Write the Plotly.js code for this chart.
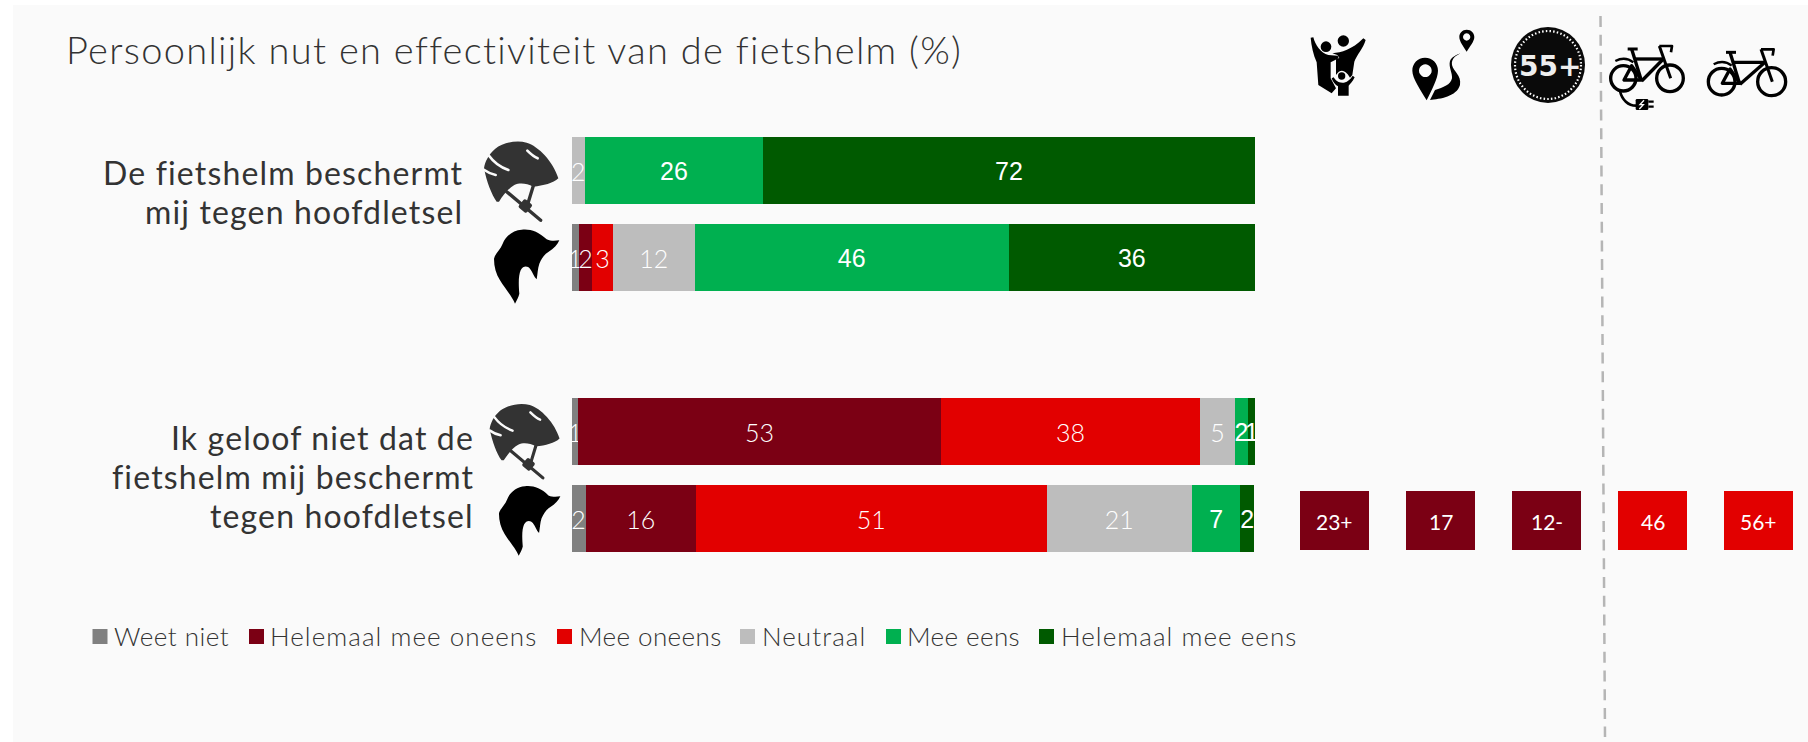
<!DOCTYPE html>
<html><head><meta charset="utf-8">
<script src="https://cdn.plot.ly/plotly-3.0.1.min.js"></script>
<style>html,body{margin:0;padding:0;background:#fff}#chart{width:1808px;height:742px}</style>
</head><body><div id="chart"></div>
<script>
const W=1808,H=742;
const rowPositions=[0,1,3,4];
const seriesNames=['Weet niet','Helemaal mee oneens','Mee oneens','Neutraal','Mee eens','Helemaal mee eens'];
const seriesColors=['#808080','#7B0014','#E20000','#BDBDBD','#00B050','#005A00'];
const weetNiet=[0,1.05,1.0,2.05];
const helemaalOneens=[0,2.0,53.0,16.15];
const meeOneens=[0,3.0,38.0,51.3];
const neutraal=[2.0,12.0,5.0,21.3];
const meeEens=[26.0,45.9,2.0,7.05];
const helemaalEens=[72.0,36.05,1.0,2.05];
const seriesValues=[weetNiet,helemaalOneens,meeOneens,neutraal,meeEens,helemaalEens];
const labelFamily='Lato, sans-serif';
const statLabels=['23+','17','12-','46','56+'];
const statColors=['#7B0014','#7B0014','#7B0014','#E20000','#E20000'];
const statLefts=[1300,1406,1512,1618,1724];
const legendSquares=[92.5,249,557,740,886,1039];
const legendTexts=[112,268,577,759.5,905.5,1059];
const legendSpacing=[0.5,1.05,0.4,1.05,0.4,1.05];
const questionLines=[['De fietshelm beschermt',465,172],['mij tegen hoofdletsel',465,211],['Ik geloof niet dat de',476,437],['fietshelm mij beschermt',476,476],['tegen hoofdletsel',476,515]];
const px=x=>x/W, py=y=>1-y/H;
const spaced=(t,s)=>`<span style="letter-spacing:${s}px">${t}</span>`;

const traces=seriesNames.map((n,i)=>({
  type:'bar',orientation:'h',name:n,y:rowPositions,x:seriesValues[i],
  width:67/87,marker:{color:seriesColors[i],line:{width:0}},
  text:seriesValues[i].map(v=>v>0?String(Math.round(v)):''),
  textposition:'inside',insidetextanchor:'middle',textangle:0,constraintext:'none',
  insidetextfont:{family:i>=4?'Liberation Sans, Arial, sans-serif':labelFamily,size:25,color:'#fff',weight:i>=4?400:300},
  hoverinfo:'name+x',cliponaxis:false
}));

const svg=s=>'data:image/svg+xml;utf8,'+encodeURIComponent(s);
const helmet=svg(`<svg xmlns="http://www.w3.org/2000/svg" viewBox="0 0 285 285"><path fill="#333" d="M27 100C30 80 40 60 60 42C85 22 125 15 155 23C190 33 235 80 250 130C235 145 205 152 175 155C155 145 135 142 118 150C100 160 85 180 72 200L65 200C50 180 35 140 27 100Z"/><g fill="none" stroke="#fafafa" stroke-width="8" stroke-linecap="round"><path d="M42 62C55 80 78 97 100 105"/><path d="M28 105C38 112 50 118 62 120"/><path d="M157 47C165 55 175 65 188 70"/></g><g fill="none" stroke="#333" stroke-width="10" stroke-linecap="round"><path d="M95 170L197 256"/><path d="M175 152L158 208"/></g><rect x="135" y="197" width="32" height="32" rx="6" fill="#333" transform="rotate(40 151 213)"/></svg>`);
const hair=svg(`<svg xmlns="http://www.w3.org/2000/svg" viewBox="0 0 270 270"><path fill="#000" d="M105 245C98 225 75 200 60 175C48 155 42 135 42 110C45 95 60 85 68 65C78 40 100 25 125 23C150 20 175 28 200 52C213 58 225 57 238 55C232 68 222 80 205 90C192 98 185 110 178 125C173 140 173 155 170 172C162 165 158 150 150 140C143 132 130 130 122 145C116 160 115 180 118 215C116 225 110 235 105 245Z"/></svg>`);
const family=svg(`<svg xmlns="http://www.w3.org/2000/svg" viewBox="0 0 100 85"><g transform="scale(.3333)" fill="#000"><circle cx="78" cy="65" r="16"/><circle cx="130" cy="48" r="17"/><path d="M32 38L40 37C46 60 62 84 85 90L113 92L116 100L92 112L92 160L108 190L95 205L55 180L50 112C40 90 34 62 32 38Z"/><path d="M97 85C125 82 155 75 190 40L197 45C190 70 170 90 163 110L157 150L150 158C135 132 120 132 108 150L108 103L118 99L112 90Z"/><circle cx="125" cy="153" r="11"/><path d="M95 160L101 157C106 166 114 173 127 173C140 173 150 165 158 152L164 157C158 170 150 178 146 182L146 212L114 212L114 184C106 180 98 170 95 160Z"/></g></svg>`);
const route=svg(`<svg xmlns="http://www.w3.org/2000/svg" viewBox="0 0 100 85"><g transform="scale(.3333) translate(-300,0)" fill="#000"><path fill-rule="evenodd" d="M375 98C398 98 414 115 414 137C414 160 395 195 380 226C362 195 337 160 337 137C337 115 353 98 375 98ZM376 118A19 19 0 1 0 376.01 118Z"/><path fill-rule="evenodd" d="M500 14C514 14 523 24 523 36C523 49 510 64 500 80C490 64 478 49 478 36C478 24 487 14 500 14ZM500 25A11 11 0 1 0 500.01 25Z"/><path d="M492 82C470 88 453 100 456 120C460 140 485 150 480 180C470 215 420 222 390 225L405 195C430 187 452 180 456 160C458 145 445 125 450 108C455 94 478 86 492 82Z"/></g></svg>`);
const badge=svg(`<svg xmlns="http://www.w3.org/2000/svg" viewBox="0 0 74 76"><ellipse cx="37" cy="38" rx="37" ry="38" fill="#0a0a0a"/><ellipse cx="37" cy="38" rx="33" ry="34" fill="none" stroke="#fff" stroke-width="2.2" stroke-dasharray="1.5 2.2"/></svg>`);
const bikeParts=(rx,ry,rr,fx,fy,fr)=>`<g fill="none" stroke="#000" stroke-width="10" stroke-linejoin="round"><circle cx="${rx}" cy="${ry}" r="${rr}"/><circle cx="${fx}" cy="${fy}" r="${fr}"/><path d="M${rx+2} ${ry+5}L${rx+55} ${ry+5}L${rx+25} ${ry-38}Z"/><path d="M${rx+25} ${ry-88}L${rx+52} ${ry}"/><path d="M${rx+13} ${ry-88}H${rx+43}" stroke-width="9"/><path d="M${rx+32} ${ry-58}H${fx-20}"/><path d="M${fx-20} ${ry-58}L${rx+55} ${ry+8}"/><path d="M${fx-32} ${ry-97}L${fx+2} ${ry}" stroke-width="9"/><path d="M${fx-32} ${ry-97}H${fx+6}L${fx+3} ${ry-78}" stroke-width="8"/><path d="M${rx-24} ${ry-52}C${rx-5} ${ry-62} ${rx+15} ${ry-60} ${rx+30} ${ry-48}" stroke-width="7"/></g>`;
const ebike=svg(`<svg xmlns="http://www.w3.org/2000/svg" viewBox="0 0 95 85"><g transform="scale(.3333)">${bikeParts(70,130,38,210,130,40)}<path d="M60 168C66 195 85 212 108 212" fill="none" stroke="#000" stroke-width="8"/><rect x="107" y="192" width="38" height="33" rx="4" fill="#000"/><path d="M145 200H161M145 215H161" stroke="#000" stroke-width="7"/><path d="M132 196L120 209H130L118 222" fill="none" stroke="#fff" stroke-width="4"/></g></svg>`);
const bike=svg(`<svg xmlns="http://www.w3.org/2000/svg" viewBox="0 0 100 85"><g transform="scale(.3333) translate(-285,0)">${bikeParts(365,140,40,515,140,42)}</g></svg>`);
const img=(source,x0,y0,w,h)=>({source,xref:'paper',yref:'paper',x:px(x0),y:py(y0),sizex:w/W,sizey:h/H,sizing:'stretch',xanchor:'left',yanchor:'top',layer:'above'});
const images=[
  img(helmet,475,135,95,95),img(hair,480,222,90,90),
  img(helmet,481.2,397.7,89.3,89.3),img(hair,485.8,479.1,84.6,84.6),
  img(family,1300,25,100,85),img(route,1400,25,100,85),img(badge,1511,27,74,76),
  img(ebike,1600,35,95,85),img(bike,1695,35,100,85)
];
const rectPx=(x0,y0,x1,y1,color,layer)=>({type:'rect',xref:'paper',yref:'paper',x0:px(x0),x1:px(x1),y0:py(y0),y1:py(y1),fillcolor:color,line:{width:0},layer:layer||'above'});
const shapes=[rectPx(13,5,1808,742,'#FAFAFA','below')];
shapes.push({type:'line',xref:'paper',yref:'paper',x0:px(1600.5),y0:py(16),x1:px(1605),y1:py(737),line:{color:'#B5B5B5',width:2.5,dash:'11px,7.7px'}});
statLefts.forEach((l,i)=>shapes.push(rectPx(l,491,l+69,550,statColors[i])));
legendSquares.forEach((l,i)=>shapes.push(rectPx(l,629,l+15,644,seriesColors[i])));
const note=(text,x,y,o)=>Object.assign({text,xref:'paper',yref:'paper',x:px(x),y:py(y),showarrow:false,xanchor:'left',yanchor:'middle',font:{family:labelFamily,size:24,color:'#333'}},o||{});
const annotations=[
  note(spaced('Persoonlijk nut en effectiviteit van de fietshelm (%)',1.3),64,49,{font:{family:labelFamily,size:38,color:'#333',weight:300}}),
  note('55+',1550,66,{xanchor:'center',font:{family:'DejaVu Sans, sans-serif',size:28,color:'#eee',weight:700}})
];
questionLines.forEach(q=>annotations.push(note(spaced(q[0],1.15),q[1],q[2],{xanchor:'right',align:'right',font:{family:labelFamily,size:32,color:'#333'}})));
statLabels.forEach((t,i)=>annotations.push(note(t,statLefts[i]+34.5,521,{xanchor:'center',font:{family:labelFamily,size:21,color:'#fff'}})));
seriesNames.forEach((n,i)=>annotations.push(note(spaced(n,legendSpacing[i]),legendTexts[i],635.5,{font:{family:labelFamily,size:26,color:'#333',weight:300}})));

const layout={
  width:W,height:H,margin:{l:0,r:0,t:0,b:0},paper_bgcolor:'#fff',plot_bgcolor:'rgba(0,0,0,0)',
  barmode:'stack',showlegend:false,
  xaxis:{domain:[px(571.5),px(1255)],range:[0,100],visible:false,fixedrange:true},
  yaxis:{domain:[py(605.3),py(127)],range:[(605.3-170.5)/87,(127-170.5)/87],autorange:false,visible:false,fixedrange:true},
  shapes,images,annotations,font:{family:labelFamily}
};
Plotly.newPlot('chart',traces,layout,{displayModeBar:false,staticPlot:true});
</script></body></html>
